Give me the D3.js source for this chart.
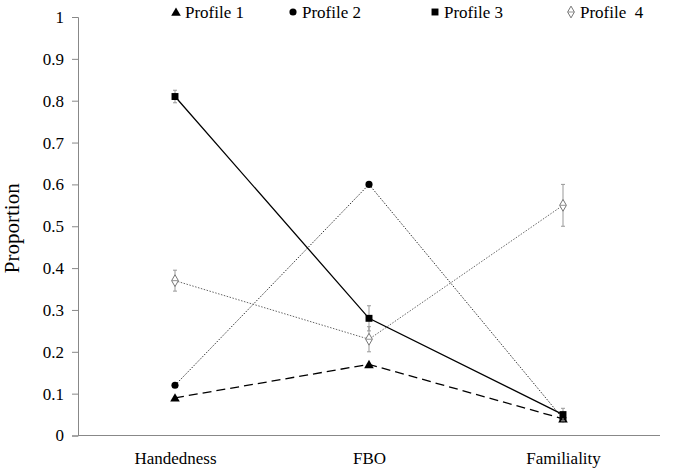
<!DOCTYPE html>
<html>
<head>
<meta charset="utf-8">
<script src="https://cdn.jsdelivr.net/npm/d3@7"></script>
<style>
body { margin: 0; background: #fff; }
svg text { fill: #000; }
</style>
</head>
<body>
<div id="chart"></div>
<script>
const categories = ["Handedness", "FBO", "Familiality"];
const profile1 = [0.09, 0.17, 0.04];
const profile2 = [0.12, 0.60, 0.04];
const profile3 = [0.81, 0.28, 0.05];
const profile4 = [0.37, 0.23, 0.55];
const err1 = [0, 0, 0];
const err2 = [0, 0, 0];
const err3 = [0.015, 0.03, 0.015];
const err4 = [0.025, 0.03, 0.05];
const yTicks = [0, 0.1, 0.2, 0.3, 0.4, 0.5, 0.6, 0.7, 0.8, 0.9, 1];

const width = 677, height = 471;
const margin = {top: 17, right: 17, bottom: 35, left: 78};
const serif = "Times New Roman, Times, Tinos, Nimbus Roman, FreeSerif, Noto Serif, Liberation Serif, DejaVu Serif, serif";

const svg = d3.select("#chart").append("svg")
	.attr("width", width)
	.attr("height", height)
	.attr("font-family", serif);

const x = d3.scalePoint()
	.domain(categories)
	.range([margin.left, width - margin.right])
	.padding(0.5);

const y = d3.scaleLinear()
	.domain([0, 1])
	.range([height - margin.bottom - 0.5, margin.top]);

// y axis
const yAxis = svg.append("g")
	.attr("transform", "translate(" + margin.left + ",0)")
	.call(d3.axisLeft(y).tickValues(yTicks).tickSize(6).tickPadding(8)
		.tickFormat(d => d === 0 || d === 1 ? d3.format("d")(d) : d3.format(".1f")(d)));
yAxis.attr("font-family", serif).attr("font-size", 17);
yAxis.selectAll("path, line").attr("stroke", "#888");

// x axis
const xAxis = svg.append("g")
	.attr("transform", "translate(0," + y(0) + ")")
	.call(d3.axisBottom(x).tickSize(0).tickPadding(16));
xAxis.attr("font-family", serif).attr("font-size", 17);
xAxis.select("path").attr("d", "M" + margin.left + ",0H" + (width - margin.right)).attr("stroke", "#888");

svg.append("text")
	.attr("transform", "translate(19," + (y(0.5) + 2) + ") rotate(-90)")
	.attr("text-anchor", "middle")
	.attr("font-size", 21)
	.text("Proportion");

const series = [
	{name: "Profile 1", values: profile1, err: err1, dash: "9,5", color: "#000", width: 1.3, marker: "triangle"},
	{name: "Profile 2", values: profile2, err: err2, dash: "1.5,1.5", color: "#333", width: 1, marker: "circle"},
	{name: "Profile 3", values: profile3, err: err3, dash: null, color: "#000", width: 1.3, marker: "square"},
	{name: "Profile  4", values: profile4, err: err4, dash: "1.5,1.5", color: "#666", width: 1, marker: "diamond"}
];

const line = d3.line()
	.x((d, i) => x(categories[i]))
	.y(d => y(d));

const symbols = {
	triangle: d3.symbol().type(d3.symbolTriangle).size(40),
	circle: d3.symbol().type(d3.symbolCircle).size(40),
	square: d3.symbol().type(d3.symbolSquare).size(48),
	diamond: d3.symbol().type(d3.symbolDiamond).size(40)
};

function drawMarker(g, s, cx, cy) {
	if (s.marker === "diamond") {
		g.append("path")
			.attr("d", symbols.diamond())
			.attr("transform", "translate(" + cx + "," + cy + ")")
			.attr("fill", "#fff")
			.attr("stroke", "#777")
			.attr("stroke-width", 1);
		g.append("line")
			.attr("x1", cx - 3).attr("x2", cx + 3)
			.attr("y1", cy).attr("y2", cy)
			.attr("stroke", "#777").attr("stroke-width", 0.8);
	} else {
		g.append("path")
			.attr("d", symbols[s.marker]())
			.attr("transform", "translate(" + cx + "," + (s.marker === "triangle" ? cy + 1 : cy) + ")")
			.attr("fill", "#000");
	}
}

series.forEach(s => {
	const g = svg.append("g");
	g.append("path")
		.datum(s.values)
		.attr("d", line)
		.attr("fill", "none")
		.attr("stroke", s.color)
		.attr("stroke-width", s.width)
		.attr("stroke-dasharray", s.dash);
	s.values.forEach((v, i) => {
		const cx = x(categories[i]);
		if (s.err[i] > 0) {
			g.append("line")
				.attr("x1", cx).attr("x2", cx)
				.attr("y1", y(v - s.err[i])).attr("y2", y(v + s.err[i]))
				.attr("stroke", "#999").attr("stroke-width", 1);
			[v - s.err[i], v + s.err[i]].forEach(e => {
				g.append("line")
					.attr("x1", cx - 2).attr("x2", cx + 2)
					.attr("y1", y(e)).attr("y2", y(e))
					.attr("stroke", "#999").attr("stroke-width", 1);
			});
		}
	});
	s.values.forEach((v, i) => drawMarker(g, s, x(categories[i]), y(v)));
});

// legend
const legendX = [176, 293, 435, 571];
series.forEach((s, i) => {
	const lg = svg.append("g");
	drawMarker(lg, s, legendX[i], 12);
	lg.append("text")
		.attr("x", legendX[i] + 9)
		.attr("y", 18)
		.attr("font-size", 17)
		.style("white-space", "pre")
		.text(s.name);
});
</script>
</body>
</html>
